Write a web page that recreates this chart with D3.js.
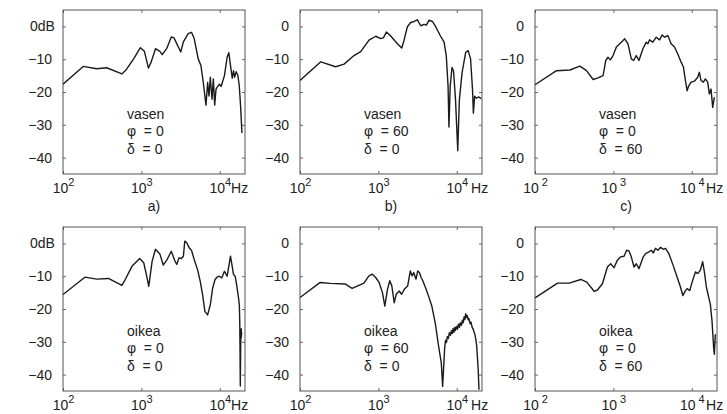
<!DOCTYPE html>
<html>
<head>
<meta charset="utf-8">
<script src="https://cdn.jsdelivr.net/npm/d3@7"></script>
<style>
  body { margin: 0; background: #fff; }
  text { font-family: "Liberation Sans", Arial, sans-serif; fill: #222; }
</style>
</head>
<body>
<svg id="chart" width="727" height="414"></svg>
<script>
// frequency response curves, [Hz, dB]
var vasenPhi0Delta0 = [[100,-17.6],[181,-12.2],[269,-12.9],[361,-12.6],[564,-14.5],[641,-13.2],[797,-9.9],[971,-6.5],
  [1093,-7.6],[1231,-12.7],[1332,-10.9],[1514,-6.8],[1722,-7.6],[1845,-8.6],[2099,-6.8],[2410,-3.2],[2608,-3.5],
  [3177,-7.8],[3437,-4.7],[3951,-2.2],[4359,-1.8],[4720,-3.7],[5313,-9.9],[5750,-11.9],[6165,-17.1],[6673,-24.0],
  [7005,-17.1],[7290,-21.2],[7580,-15.5],[7966,-22.2],[8283,-16.0],[8620,-24.0],[8970,-19.1],[9420,-18.3],
  [9900,-17.6],[10400,-18.3],[11480,-15.0],[12420,-9.4],[13050,-8.0],[13710,-11.9],[14420,-15.8],[14990,-13.5],
  [15440,-15.5],[16230,-13.8],[17050,-15.0],[17740,-18.1],[18450,-24.3],[19200,-32.5]];

var vasenPhi60Delta0 = [[100,-16.5],[184,-10.8],[285,-12.3],[365,-11.5],[489,-8.9],[595,-7.7],[760,-4.2],[925,-3.0],
  [1071,-3.7],[1159,-3.5],[1265,-1.7],[1409,-2.7],[1749,-5.3],[1986,-6.6],[2127,-4.2],[2344,-0.1],[2588,1.2],
  [2853,1.5],[3147,2.0],[3470,0.2],[3827,0.6],[4100,0.4],[4434,1.9],[4890,1.5],[5393,-0.1],[6125,-2.7],[6890,-4.8],
  [7350,-8.9],[7750,-18.2],[7950,-30.7],[8250,-18.2],[8700,-12.5],[9100,-13.6],[9650,-22.4],[10300,-37.9],
  [10800,-22.4],[11700,-14.1],[13000,-7.9],[14000,-7.4],[15000,-9.9],[15900,-19.3],[16300,-26.5],[16900,-21.3],
  [17800,-21.9],[19000,-21.5],[20500,-22.0]];

var vasenPhi0Delta60 = [[100,-17.8],[188,-13.5],[279,-13.3],[373,-12.1],[454,-13.5],[552,-16.2],[638,-15.7],[739,-15.0],
  [799,-10.4],[855,-9.4],[916,-10.2],[990,-8.9],[1092,-6.3],[1264,-4.8],[1394,-3.8],[1536,-5.3],[1694,-9.9],
  [1813,-10.4],[1960,-8.9],[2119,-10.4],[2383,-6.8],[2626,-4.8],[2758,-5.3],[2897,-4.1],[3192,-4.8],[3521,-3.3],
  [3882,-4.1],[4198,-2.6],[4497,-3.3],[4956,-2.8],[5462,-5.3],[6023,-6.3],[6638,-8.4],[7316,-10.9],[7836,-12.4],
  [8304,-16.5],[8724,-19.6],[9158,-18.1],[9810,-17.0],[10810,-16.7],[11920,-15.5],[12510,-14.0],[13140,-16.5],
  [14070,-17.0],[14920,-16.0],[15970,-17.0],[16770,-20.6],[17620,-19.1],[18500,-24.7],[19420,-21.6]];

var oikeaPhi0Delta0 = [[100,-15.6],[190,-10.3],[269,-10.9],[380,-10.7],[564,-12.8],[604,-11.6],[758,-7.0],[952,-4.6],
  [1072,-5.9],[1183,-10.5],[1242,-13.1],[1372,-5.4],[1514,-1.8],[1722,-3.2],[1902,-6.6],[2099,-5.2],[2410,-2.4],
  [2661,-5.2],[2825,-6.4],[3026,-4.4],[3243,-4.6],[3437,-3.9],[3580,0.7],[3793,0.2],[4065,-1.3],[4359,-2.1],
  [4720,-4.9],[5210,-8.0],[5640,-11.6],[6040,-15.6],[6475,-20.8],[7005,-21.8],[7580,-18.7],[8125,-13.6],
  [8710,-11.0],[9245,-10.3],[9900,-10.0],[10610,-10.5],[11480,-8.5],[12420,-10.0],[13050,-7.0],[13710,-3.9],
  [14280,-6.4],[14990,-9.5],[15740,-10.0],[16540,-13.1],[17380,-16.7],[17800,-19.0],[18000,-24.0],[18150,-33.0],
  [18300,-43.5],[18450,-34.0],[18600,-26.5],[18700,-29.0],[18800,-26.0],[18900,-28.5],[19000,-27.0]];

var oikeaPhi60Delta0 = [[100,-16.5],[181,-11.9],[243,-12.2],[380,-12.4],[463,-13.7],[537,-13.0],[654,-12.1],[758,-9.9],
  [837,-9.4],[924,-10.4],[1021,-11.9],[1127,-15.0],[1208,-19.1],[1306,-14.0],[1400,-11.4],[1486,-13.0],[1592,-18.1],
  [1688,-15.5],[1845,-14.5],[1977,-15.5],[2140,-14.0],[2362,-13.0],[2556,-8.4],[2687,-9.9],[2825,-8.9],[3026,-10.9],
  [3177,-8.4],[3340,-8.9],[3510,-10.4],[3690,-11.4],[4065,-14.0],[4359,-16.0],[4808,-19.1],[5313,-24.2],[5865,-31.3],
  [6350,-36.4],[6605,-43.6],[6800,-38.0],[7005,-32.0],[7200,-29.5],[7400,-30.2],[7580,-28.4],[7800,-29.0],
  [8050,-27.2],[8300,-28.0],[8550,-26.6],[8750,-27.5],[8970,-26.0],[9200,-27.1],[9400,-25.6],[9610,-26.6],
  [9900,-25.3],[10200,-26.2],[10500,-24.6],[10800,-25.6],[11100,-24.2],[11480,-25.0],[11800,-23.4],[12100,-24.2],
  [12400,-22.4],[12700,-23.2],[13000,-21.4],[13300,-22.6],[13650,-22.0],[14000,-23.3],[14300,-22.9],[14850,-24.5],
  [15200,-24.0],[15740,-25.6],[16300,-26.3],[17050,-27.8],[17500,-29.2],[17910,-31.0],[18400,-35.0],[18830,-39.0],
  [19200,-44.6]];

var oikeaPhi0Delta60 = [[100,-16.6],[194,-12.1],[273,-12.1],[384,-11.0],[458,-11.8],[568,-14.6],[626,-14.2],[725,-12.3],
  [839,-7.2],[925,-6.2],[1019,-7.4],[1124,-5.1],[1239,-4.1],[1367,-3.9],[1477,-2.1],[1581,-2.3],[1693,-4.1],
  [1832,-7.2],[1960,-6.2],[2119,-7.7],[2406,-4.1],[2577,-3.1],[2841,-2.6],[3042,-2.1],[3223,-2.9],[3450,-1.5],
  [3697,-2.1],[4000,-1.2],[4325,-1.8],[4626,-1.5],[5100,-3.1],[5793,-6.7],[6515,-10.3],[7180,-13.3],[7695,-15.9],
  [8306,-14.4],[8720,-13.8],[9440,-14.4],[10100,-11.8],[11140,-8.7],[11920,-9.2],[12880,-8.2],[13800,-5.6],
  [14490,-8.7],[15360,-13.3],[16440,-16.4],[17270,-18.5],[18130,-23.6],[19040,-31.8],[19420,-33.8],[19990,-27.7]];

var yTicks = [0, -10, -20, -30, -40];
var xTicks = [100, 1000, 10000];
var captions = ["a)", "b)", "c)"];

var panels = [
  { data: vasenPhi0Delta0,  side: "vasen", phi: 0,  delta: 0,  col: 0, row: 0, dB: true },
  { data: vasenPhi60Delta0, side: "vasen", phi: 60, delta: 0,  col: 1, row: 0, dB: false },
  { data: vasenPhi0Delta60, side: "vasen", phi: 0,  delta: 60, col: 2, row: 0, dB: false },
  { data: oikeaPhi0Delta0,  side: "oikea", phi: 0,  delta: 0,  col: 0, row: 1, dB: true },
  { data: oikeaPhi60Delta0, side: "oikea", phi: 60, delta: 0,  col: 1, row: 1, dB: false },
  { data: oikeaPhi0Delta60, side: "oikea", phi: 0,  delta: 60, col: 2, row: 1, dB: false }
];

var colX = [63, 300, 535], rowY = [10, 227];
var W = 182, H = 164;

var svg = d3.select("#chart");

var x = d3.scaleLog().domain([100, 21000]).range([0, W]);
var y = d3.scaleLinear().domain([-45, 5]).range([H, 0]);

var line = d3.line()
  .x(function(d){ return x(d[0]) })
  .y(function(d){ return y(d[1]) });

var nb = "\u00a0";

panels.forEach(function(p, i){
  var g = svg.append("g")
    .attr("transform", "translate(" + colX[p.col] + "," + rowY[p.row] + ")");

  g.append("clipPath").attr("id", "clip" + i)
    .append("rect").attr("width", W).attr("height", H);

  // ticks pointing inwards on all four sides
  var left = g.append("g").call(d3.axisLeft(y).tickValues(yTicks).tickSize(-3).tickPadding(11));
  g.append("g").attr("transform", "translate(" + W + ",0)")
    .call(d3.axisRight(y).tickValues(yTicks).tickSize(-3).tickFormat(""));
  var bottom = g.append("g").attr("transform", "translate(0," + H + ")")
    .call(d3.axisBottom(x).tickValues(xTicks).tickSize(-3).tickPadding(9).tickFormat(""));
  g.append("g").call(d3.axisTop(x).tickValues(xTicks).tickSize(-3).tickFormat(""));

  g.selectAll(".domain").remove();
  g.selectAll(".tick line").attr("stroke", "#666");
  g.selectAll(".tick text").attr("font-size", 14).attr("font-family", null).attr("fill", "#222");

  if (p.dB) {
    // "0dB" starts where "-10" starts
    left.selectAll(".tick").filter(function(d){ return d === 0 }).select("text")
      .attr("text-anchor", "start").attr("x", -33)
      .text("0dB");
  }

  // 10^n labels
  bottom.selectAll(".tick").each(function(d){
    var t = d3.select(this).select("text");
    t.append("tspan").text("10");
    t.append("tspan").attr("dy", "-7").attr("font-size", 11).attr("dx", p.col === 2 ? 3 : 0)
      .text(Math.round(Math.log10(d)));
    if (d === 10000) {
      var w = this.querySelector("text").getComputedTextLength();
      d3.select(this).append("text")
        .attr("text-anchor", "start")
        .attr("x", w / 2 + (p.col === 0 ? 0 : 3)).attr("y", 9).attr("dy", "0.71em")
        .attr("font-size", 14).attr("fill", "#222")
        .text("Hz");
    }
  });

  g.append("rect").attr("width", W).attr("height", H)
    .attr("fill", "none").attr("stroke", "#555").attr("stroke-width", 1);

  g.append("path").datum(p.data)
    .attr("clip-path", "url(#clip" + i + ")")
    .attr("d", line)
    .attr("fill", "none").attr("stroke", "#1a1a1a").attr("stroke-width", 1.4)
    .attr("stroke-linejoin", "round");

  var lab = g.append("text").attr("font-size", 14);
  lab.append("tspan").attr("x", 64).attr("y", y(-28.2)).text(p.side);
  lab.append("tspan").attr("x", 64).attr("y", y(-33.5)).text("\u03c6" + nb + nb + "=" + nb + p.phi);
  lab.append("tspan").attr("x", 64).attr("y", y(-38.8)).text("\u03b4" + nb + nb + "=" + nb + p.delta);

  if (p.row === 0) {
    g.append("text").attr("x", W / 2).attr("y", H + 37)
      .attr("text-anchor", "middle").attr("font-size", 14)
      .text(captions[p.col]);
  }
});
</script>
</body>
</html>
